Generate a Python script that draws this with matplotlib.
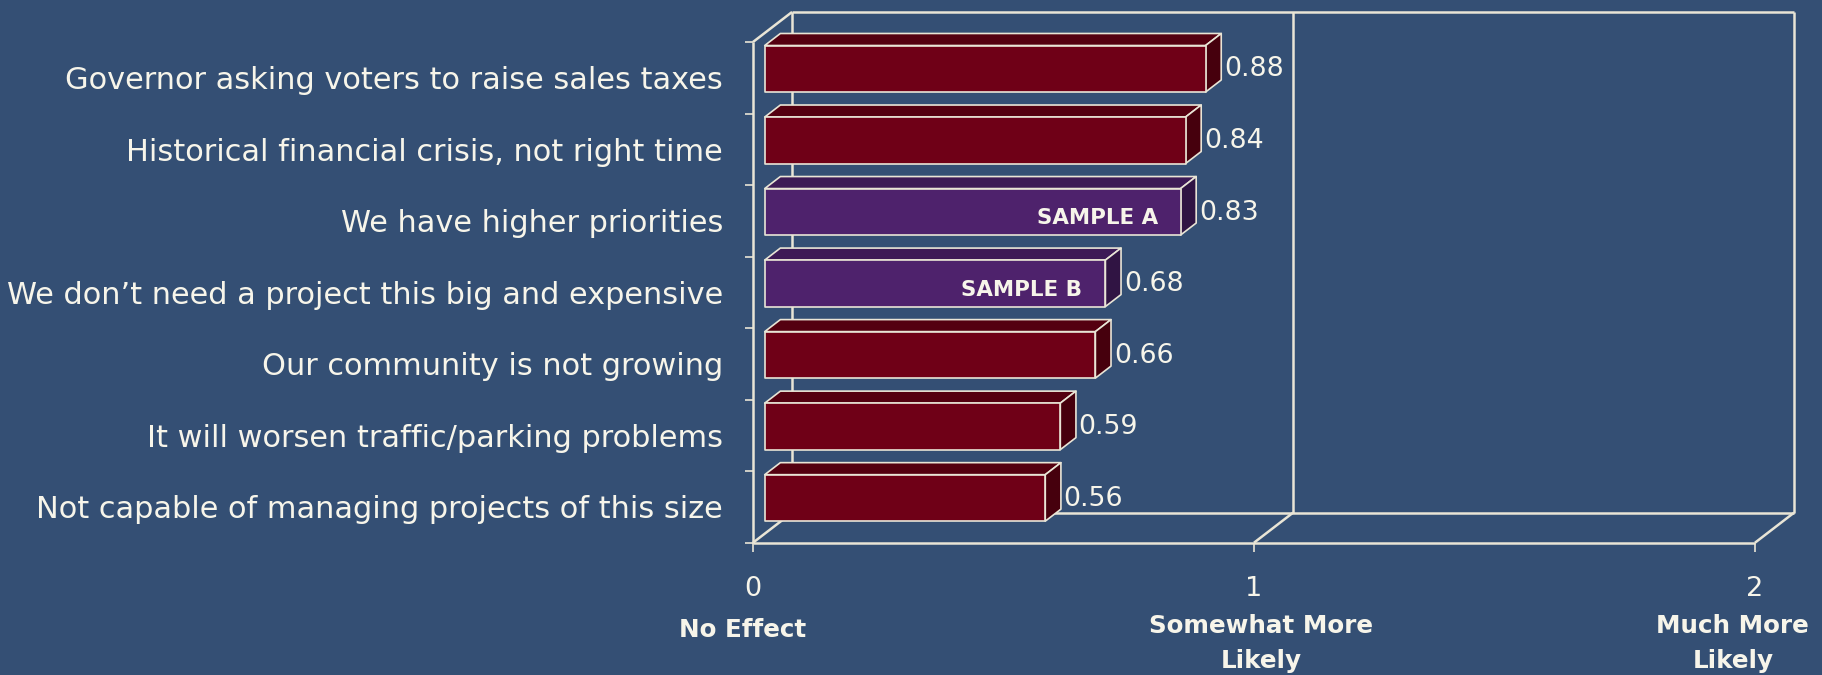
import matplotlib
matplotlib.use("Agg")
import matplotlib.pyplot as plt
from matplotlib.patches import Polygon
from matplotlib.ticker import FixedLocator

# ---- data ----
categories = [
    "Governor asking voters to raise sales taxes",
    "Historical financial crisis, not right time",
    "We have higher priorities",
    "We don\u2019t need a project this big and expensive",
    "Our community is not growing",
    "It will worsen traffic/parking problems",
    "Not capable of managing projects of this size",
]
values = [0.88, 0.84, 0.83, 0.68, 0.66, 0.59, 0.56]
bar_groups = ["base", "base", "sample", "sample", "base", "base", "base"]
inbar_labels = ["", "", "SAMPLE A", "SAMPLE B", "", "", ""]
value_labels = ["0.88", "0.84", "0.83", "0.68", "0.66", "0.59", "0.56"]
x_ticks = [0, 1, 2]
x_tick_labels = ["0", "1", "2"]
x_descriptions = ["No Effect", "Somewhat More\nLikely", "Much More\nLikely"]

# ---- style ----
BG = "#344F74"
LINE = "#E9E5D6"
TEXT = "#F7F5EA"
FACE = {"base": ("#6F0017", "#540010", "#46000D"),
        "sample": ("#4E226C", "#3D1A56", "#301443")}
DX, DY = 0.078, 0.42       # full depth offsets (x units, category units)
Z0, Z1 = 0.30, 0.70        # bar depth range
BAR_H = 0.65

W, H = 1822, 675
fig = plt.figure(figsize=(W / 100, H / 100), dpi=100, facecolor=BG)
ax = fig.add_axes([753 / W, (H - 542.7) / H, 1002 / W, 500.7 / H])
ax.patch.set_visible(False)
for s in ax.spines.values():
    s.set_visible(False)

n = len(categories)
xmax = x_ticks[-1]
ax.set_xlim(0, xmax)
ax.set_ylim(n, 0)

lk = dict(color=LINE, lw=1.8, clip_on=False, zorder=1, solid_capstyle="butt")
# floor
ax.plot([0, xmax], [n, n], **lk)
ax.plot([DX, xmax + DX], [n - DY, n - DY], **lk)
for t in x_ticks:
    ax.plot([t, t + DX], [n, n - DY], **lk)
# back wall
ax.plot([DX, xmax + DX], [-DY, -DY], **lk)
for t in x_ticks[1:]:
    ax.plot([t + DX, t + DX], [n - DY, -DY], **lk)
# left wall
ax.plot([0, 0], [n, 0], **lk)
ax.plot([0, DX], [0, -DY], **lk)
ax.plot([DX, DX], [n - DY, -DY], **lk)

# ---- bars ----
ddx, ddy = (Z1 - Z0) * DX, (Z1 - Z0) * DY
for i, (v, g) in enumerate(zip(values, bar_groups)):
    front, top, side = FACE[g]
    c = i + 0.5
    yt = c - BAR_H / 2 - Z0 * DY
    yb = c + BAR_H / 2 - Z0 * DY
    x0 = Z0 * DX
    x1 = v + Z0 * DX
    pk = dict(edgecolor=LINE, lw=1.2, clip_on=False, zorder=3, joinstyle="round")
    ax.add_patch(Polygon([(x0, yt), (x1, yt), (x1 + ddx, yt - ddy), (x0 + ddx, yt - ddy)],
                         facecolor=top, **pk))
    ax.add_patch(Polygon([(x1, yt), (x1, yb), (x1 + ddx, yb - ddy), (x1 + ddx, yt - ddy)],
                         facecolor=side, **pk))
    ax.add_patch(Polygon([(x0, yt), (x1, yt), (x1, yb), (x0, yb)],
                         facecolor=front, **pk))
    ax.annotate(value_labels[i], xy=(v + Z1 * DX, c - Z0 * DY), xytext=(2, -0.5),
                textcoords="offset points", ha="left", va="center",
                fontsize=19.3, color=TEXT, zorder=5, annotation_clip=False)
    if inbar_labels[i]:
        ax.annotate(inbar_labels[i], xy=(x1, c - Z0 * DY), xytext=(-16.5, -4.5),
                    textcoords="offset points", ha="right", va="center",
                    fontsize=15.4, fontweight="bold", color=TEXT, zorder=5,
                    annotation_clip=False)

# ---- axes ticks ----
ax.yaxis.set_major_locator(FixedLocator([i + 0.5 for i in range(n)]))
ax.set_yticklabels(categories)
ax.yaxis.set_minor_locator(FixedLocator(list(range(n + 1))))
ax.tick_params(axis="y", which="major", length=0, pad=21.6, labelsize=21.9, labelcolor=TEXT)
ax.tick_params(axis="y", which="minor", length=6, width=1.2, color=LINE, direction="out")
for lab in ax.get_yticklabels():
    lab.set_y(lab.get_position()[1])
    lab.set_va("center_baseline")

ax.set_xticks(x_ticks)
ax.set_xticklabels(x_tick_labels)
ax.tick_params(axis="x", which="major", length=6.5, width=1.2, color=LINE, direction="out",
               pad=17.5, labelsize=19.5, labelcolor=TEXT)

desc_offsets = [(-7.2, -63), (5, -72.5), (-16, -72.5)]
for t, d, off in zip(x_ticks, x_descriptions, desc_offsets):
    ax.annotate(d, xy=(t, n), xytext=off, textcoords="offset points",
                ha="center", va="center", fontsize=17.7, fontweight="bold",
                color=TEXT, linespacing=1.6, annotation_clip=False)

fig.savefig("out.png", dpi=100, facecolor=BG)
